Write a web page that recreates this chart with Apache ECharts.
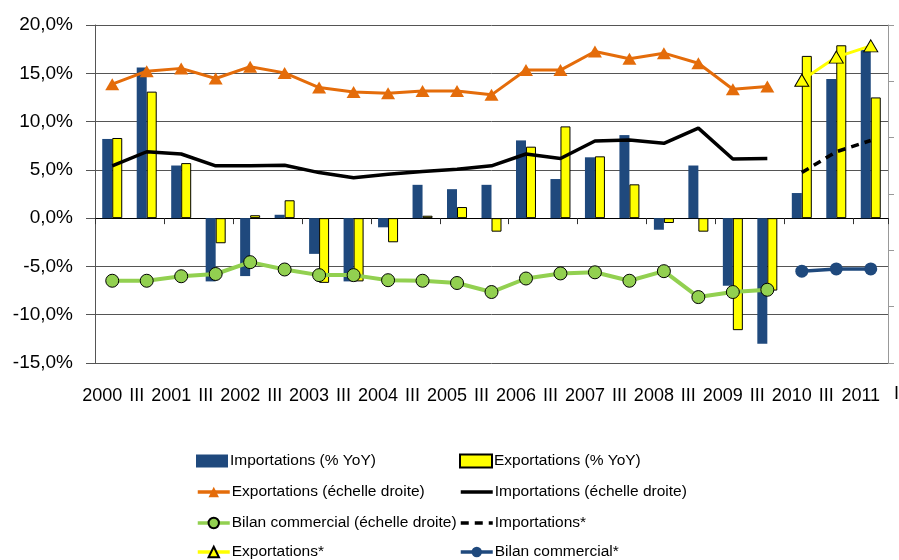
<!DOCTYPE html>
<html>
<head>
<meta charset="utf-8">
<script src="https://cdn.jsdelivr.net/npm/echarts@6/dist/echarts.min.js"></script>
<style>
  html, body { margin: 0; padding: 0; background: #fff; }
  #chart-container { width: 899px; height: 560px; }
</style>
</head>
<body>
<div id="chart-container"></div>
<script>
// catégories semestrielles (année / III)
const categories = ['2000', 'III', '2001', 'III', '2002', 'III', '2003', 'III', '2004', 'III', '2005', 'III',
  '2006', 'III', '2007', 'III', '2008', 'III', '2009', 'III', '2010', 'III', '2011'];

// barres, échelle gauche (% YoY)
const importsYoY = [8.2, 15.6, 5.45, -6.55, -6.0, 0.35, -3.7, -6.55, -0.95, 3.45, 3.0, 3.45,
  8.05, 4.05, 6.3, 8.6, -1.2, 5.45, -7.0, -13.0, 2.6, 14.4, 17.4];
const exportsYoY = [8.3, 13.1, 5.7, -2.6, 0.3, 1.85, -6.7, -6.55, -2.5, 0.25, 1.15, -1.4,
  7.4, 9.5, 6.4, 3.5, -0.5, -1.4, -11.6, -7.5, 16.8, 17.9, 12.5];

// courbes, échelle droite
const exportsLevel = [49.5, 51.8, 52.3, 50.5, 52.6, 51.5, 48.9, 48.1, 47.9, 48.3, 48.3, 47.6,
  52.0, 52.0, 55.3, 54.0, 55.0, 53.2, 48.6, 49.1, null, null, null];
const importsLevel = [35.0, 37.5, 37.1, 35.0, 35.0, 35.1, 33.8, 32.9, 33.5, 34.0, 34.4, 35.0,
  37.1, 36.3, 39.4, 39.6, 39.0, 41.7, 36.2, 36.3, null, null, null];
const balanceLevel = [14.6, 14.6, 15.4, 15.8, 17.9, 16.6, 15.6, 15.6, 14.7, 14.6, 14.2, 12.6,
  15.0, 15.9, 16.1, 14.6, 16.3, 11.7, 12.6, 13.0, null, null, null];

// prévisions (*)
const importsForecast = [null, null, null, null, null, null, null, null, null, null, null, null,
  null, null, null, null, null, null, null, null, 33.8, 37.5, 39.5];
const exportsForecast = [null, null, null, null, null, null, null, null, null, null, null, null,
  null, null, null, null, null, null, null, null, 50.2, 54.3, 56.3];
const balanceForecast = [null, null, null, null, null, null, null, null, null, null, null, null,
  null, null, null, null, null, null, null, null, 16.3, 16.7, 16.7];

// ordre de la légende (2 colonnes)
const legendLeftCol = ['Importations (% YoY)', 'Exportations (échelle droite)', 'Bilan commercial (échelle droite)', 'Exportations*'];
const legendRightCol = ['Exportations (% YoY)', 'Importations (échelle droite)', 'Importations*', 'Bilan commercial*'];

function renderChart() {
  var dom = document.getElementById('chart-container');
  var myChart = echarts.init(dom, null, { renderer: 'canvas' });

  const fontFamily = '"Liberation Sans", Arial, sans-serif';
  const blue = '#1F497D';
  const orange = '#E46C0A';
  const green = '#92D050';

  // une légende par entrée pour garder les colonnes alignées
  const noSymbol = ['Importations (échelle droite)', 'Importations*'];
  const barNames = ['Importations (% YoY)', 'Exportations (% YoY)'];
  function legendItem(name) {
    if (barNames.includes(name)) return { name: name, icon: 'rect' };
    if (noSymbol.includes(name)) return { name: name, itemStyle: { opacity: 0 }, lineStyle: { width: 3.5 } };
    return { name: name, lineStyle: { width: 3.5 } };
  }
  const rowTops = [448, 479, 510, 539];
  const legends = [];
  [legendLeftCol, legendRightCol].forEach((col, c) => {
    col.forEach((name, r) => {
      legends.push({
        left: c === 0 ? 191 : 454,
        top: rowTops[r],
        itemWidth: 32,
        itemHeight: 13,
        textStyle: { fontSize: 15.5, color: '#000', fontFamily: fontFamily, padding: [0, 0, 0, -3] },
        data: [legendItem(name)]
      });
    });
  });

  var option = {
    animation: false,
    backgroundColor: '#fff',
    textStyle: { fontFamily: fontFamily },
    grid: { left: 95, right: 11, top: 25, bottom: 197 },
    legend: legends,
    xAxis: [
      {
        type: 'category',
        data: categories,
        axisLine: { onZero: true, lineStyle: { color: '#000', width: 1 } },
        axisTick: { show: true, length: 6, lineStyle: { color: '#333' } },
        axisLabel: { show: false },
        splitLine: { show: false }
      },
      {
        type: 'category',
        data: categories,
        position: 'bottom',
        axisLine: { show: false, onZero: false },
        axisTick: { show: false },
        axisLabel: {
          interval: 0,
          fontSize: 18,
          color: '#000',
          margin: 24,
          padding: [0, 20, 0, 0]
        }
      }
    ],
    yAxis: [
      {
        type: 'value',
        min: -15,
        max: 20,
        interval: 5,
        axisLine: { show: true, lineStyle: { color: '#555' } },
        axisTick: { show: true, length: 9, lineStyle: { color: '#555' } },
        axisLabel: {
          fontSize: 19,
          color: '#000',
          margin: 22,
          formatter: function (v) {
            return v.toFixed(1).replace('.', ',') + '%';
          }
        },
        splitLine: { show: true, lineStyle: { color: '#555', width: 1 } }
      },
      {
        type: 'value',
        min: 0,
        max: 60,
        interval: 10,
        position: 'right',
        axisLine: { show: true, lineStyle: { color: '#999' } },
        axisTick: { show: true, length: 6, lineStyle: { color: '#999' } },
        axisLabel: { show: false },
        splitLine: { show: false }
      }
    ],
    series: [
      {
        name: 'Importations (% YoY)',
        type: 'bar',
        data: importsYoY,
        barWidth: 10,
        barGap: '0%',
        itemStyle: { color: blue }
      },
      {
        name: 'Exportations (% YoY)',
        type: 'bar',
        data: exportsYoY,
        barWidth: 10,
        itemStyle: { color: '#FFFF00', borderColor: '#000', borderWidth: 1 }
      },
      {
        name: 'Exportations (échelle droite)',
        type: 'line',
        yAxisIndex: 1,
        data: exportsLevel,
        symbol: 'triangle',
        symbolSize: [14, 12],
        lineStyle: { color: orange, width: 3 },
        itemStyle: { color: orange }
      },
      {
        name: 'Importations (échelle droite)',
        type: 'line',
        yAxisIndex: 1,
        data: importsLevel,
        symbol: 'none',
        lineStyle: { color: '#000', width: 3.5 },
        itemStyle: { color: '#000' }
      },
      {
        name: 'Bilan commercial (échelle droite)',
        type: 'line',
        yAxisIndex: 1,
        data: balanceLevel,
        symbol: 'circle',
        symbolSize: 13,
        lineStyle: { color: green, width: 4 },
        itemStyle: { color: green, borderColor: '#000', borderWidth: 1 }
      },
      {
        name: 'Importations*',
        type: 'line',
        yAxisIndex: 1,
        data: importsForecast,
        symbol: 'none',
        lineStyle: { color: '#000', width: 3.5, type: [8, 6] },
        itemStyle: { color: '#000' }
      },
      {
        name: 'Exportations*',
        type: 'line',
        yAxisIndex: 1,
        data: exportsForecast,
        symbol: 'triangle',
        symbolSize: [14, 12],
        lineStyle: { color: '#FFFF00', width: 3 },
        itemStyle: { color: '#FFFF00', borderColor: '#000', borderWidth: 1 }
      },
      {
        name: 'Bilan commercial*',
        type: 'line',
        yAxisIndex: 1,
        data: balanceForecast,
        symbol: 'circle',
        symbolSize: 13,
        lineStyle: { color: blue, width: 3.5 },
        itemStyle: { color: blue }
      }
    ],
    graphic: [
      {
        type: 'text',
        left: 894,
        top: 385,
        style: { text: 'I', fontSize: 18, fill: '#000', fontFamily: fontFamily }
      }
    ]
  };

  myChart.setOption(option);
  window.addEventListener('resize', myChart.resize);
}
renderChart();
</script>
</body>
</html>
